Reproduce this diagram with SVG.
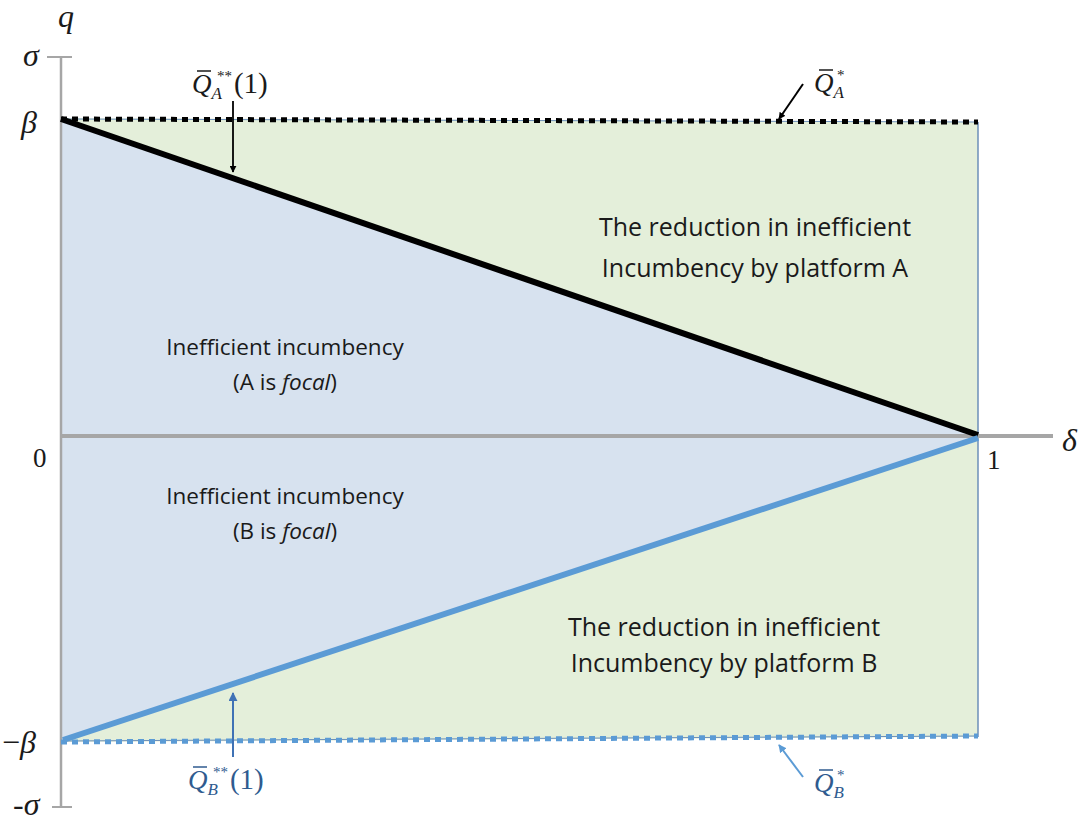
<svg xmlns="http://www.w3.org/2000/svg" width="1086" height="824" viewBox="0 0 1086 824">
  <style>
    .ax { stroke:#a6a6a6; fill:none; }
    .greek { font-family:"Liberation Serif", serif; font-style:italic; font-size:32px; fill:#1a1a1a; }
    .num { font-family:"Liberation Serif", serif; font-size:27px; fill:#1a1a1a; }
    .txt { font-family:"Open Sans", sans-serif; font-size:25px; fill:#1a1a1a; text-anchor:middle; }
    .txt2 { font-family:"Open Sans", sans-serif; font-size:22.5px; fill:#1a1a1a; text-anchor:middle; }
    .m { font-family:"Liberation Serif", serif; font-size:29px; }
    .mi { font-style:italic; }
    .blueFill { fill:#d7e2ef; }
    .greenFill { fill:#e4efda; }
  </style>
  <defs>
    <marker id="ahK" viewBox="0 0 10 10" refX="9" refY="5" markerWidth="7" markerHeight="7" markerUnits="userSpaceOnUse" orient="auto">
      <path d="M0,0 L10,5 L0,10 z" fill="#000"/>
    </marker>
    <marker id="ahB" viewBox="0 0 10 10" refX="9" refY="5" markerWidth="9" markerHeight="9" markerUnits="userSpaceOnUse" orient="auto">
      <path d="M0,0 L10,5 L0,10 z" fill="#3f72b5"/>
    </marker>
    <marker id="ahL" viewBox="0 0 10 10" refX="9" refY="5" markerWidth="8" markerHeight="8" markerUnits="userSpaceOnUse" orient="auto">
      <path d="M0,0 L10,5 L0,10 z" fill="#5b9bd5"/>
    </marker>
  </defs>

  <!-- regions -->
  <g id="regions">
    <polygon id="reduction-A" class="greenFill" points="61,118 978,122 978,435"/>
    <polygon id="incumbency-A" class="blueFill" points="61,118 978,435 61,435"/>
    <polygon id="incumbency-B" class="blueFill" points="61,437 978,437 61,742"/>
    <polygon id="reduction-B" class="greenFill" points="61,742 978,437 978,737"/>
    <line x1="978" y1="122" x2="978" y2="737" stroke="#6d8fb8" stroke-width="1.5"/>
    <line x1="61" y1="119" x2="978" y2="122" stroke="#6d8fb8" stroke-width="1"/>
    <line x1="61" y1="741" x2="978" y2="736" stroke="#6d8fb8" stroke-width="1"/>
  </g>

  <!-- axes -->
  <g id="axes">
    <line class="ax" x1="61" y1="57" x2="61" y2="807" stroke-width="2.5"/>
    <line class="ax" x1="47" y1="57" x2="72" y2="57" stroke-width="2"/>
    <line class="ax" x1="52" y1="807" x2="72" y2="807" stroke-width="2"/>
    <line class="ax" x1="61" y1="436" x2="1053" y2="436" stroke-width="4"/>
  </g>

  <!-- bounds and thresholds -->
  <g id="connectors">
    <line id="QA-star" x1="61" y1="119" x2="978" y2="122" stroke="#000" stroke-width="5" stroke-dasharray="6 5"/>
    <line id="QB-star" x1="61" y1="742" x2="978" y2="736" stroke="#5b9bd5" stroke-width="5" stroke-dasharray="6 5"/>
    <line id="QA-2star" x1="61" y1="119" x2="978" y2="435" stroke="#000" stroke-width="6"/>
    <line id="QB-2star" x1="63" y1="740" x2="978" y2="438" stroke="#5b9bd5" stroke-width="6"/>
    <line x1="233" y1="101" x2="233" y2="172" stroke="#000" stroke-width="1.8" marker-end="url(#ahK)"/>
    <line x1="803" y1="84" x2="779" y2="119" stroke="#000" stroke-width="2" marker-end="url(#ahK)"/>
    <line x1="233" y1="757" x2="233" y2="693" stroke="#3f72b5" stroke-width="2" marker-end="url(#ahB)"/>
    <line x1="803" y1="777" x2="779" y2="745" stroke="#5b9bd5" stroke-width="2" marker-end="url(#ahL)"/>
  </g>

  <!-- axis labels -->
  <g id="axis-labels">
    <text class="greek" x="58" y="27" font-size="30">q</text>
    <text class="greek" x="23" y="66">σ</text>
    <text class="greek" x="21" y="133">β</text>
    <text class="num" x="33" y="467">0</text>
    <text class="num" x="987" y="469">1</text>
    <text class="greek" x="1062" y="451" font-size="34">δ</text>
    <text class="greek" x="2" y="753"><tspan font-style="normal">−</tspan>β</text>
    <text class="greek" x="13" y="815"><tspan font-style="normal">-</tspan>σ</text>
  </g>

  <!-- region labels -->
  <g id="label-reduction-A">
    <text class="txt" x="755" y="236">The reduction in inefficient</text>
    <text class="txt" x="755" y="277">Incumbency by platform A</text>
  </g>
  <g id="label-incumbency-A">
    <text class="txt2" x="285" y="355">Inefficient incumbency</text>
    <text class="txt2" x="285" y="390">(A is <tspan font-style="italic">focal</tspan>)</text>
  </g>
  <g id="label-incumbency-B">
    <text class="txt2" x="285" y="504">Inefficient incumbency</text>
    <text class="txt2" x="285" y="539">(B is <tspan font-style="italic">focal</tspan>)</text>
  </g>
  <g id="label-reduction-B">
    <text class="txt" x="724" y="636">The reduction in inefficient</text>
    <text class="txt" x="724" y="672">Incumbency by platform B</text>
  </g>

  <!-- threshold labels: Q with overbar, subscript and stacked superscript -->
  <g id="label-QA-2star" fill="#1a1a1a">
    <line x1="197" y1="71" x2="211" y2="71" stroke="#1a1a1a" stroke-width="1.5"/>
    <text class="m" x="192" y="93"><tspan class="mi" font-size="27">Q</tspan><tspan class="mi" font-size="17" dy="6">A</tspan><tspan font-size="15" dx="-5" dy="-18">**</tspan><tspan dx="2" dy="12">(1)</tspan></text>
  </g>
  <g id="label-QA-star" fill="#1a1a1a">
    <line x1="819" y1="70" x2="833" y2="70" stroke="#1a1a1a" stroke-width="1.5"/>
    <text class="m" x="814" y="92"><tspan class="mi" font-size="27">Q</tspan><tspan class="mi" font-size="17" dy="6">A</tspan><tspan font-size="15" dx="-7" dy="-18">*</tspan></text>
  </g>
  <g id="label-QB-2star" fill="#2f5b8f">
    <line x1="193" y1="767" x2="207" y2="767" stroke="#2f5b8f" stroke-width="1.5"/>
    <text class="m" x="188" y="789"><tspan class="mi" font-size="27">Q</tspan><tspan class="mi" font-size="17" dy="6">B</tspan><tspan font-size="15" dx="-5" dy="-18">**</tspan><tspan dx="2" dy="12">(1)</tspan></text>
  </g>
  <g id="label-QB-star" fill="#2f5b8f">
    <line x1="819" y1="770" x2="833" y2="770" stroke="#2f5b8f" stroke-width="1.5"/>
    <text class="m" x="814" y="792"><tspan class="mi" font-size="27">Q</tspan><tspan class="mi" font-size="17" dy="6">B</tspan><tspan font-size="15" dx="-7" dy="-18">*</tspan></text>
  </g>
</svg>
